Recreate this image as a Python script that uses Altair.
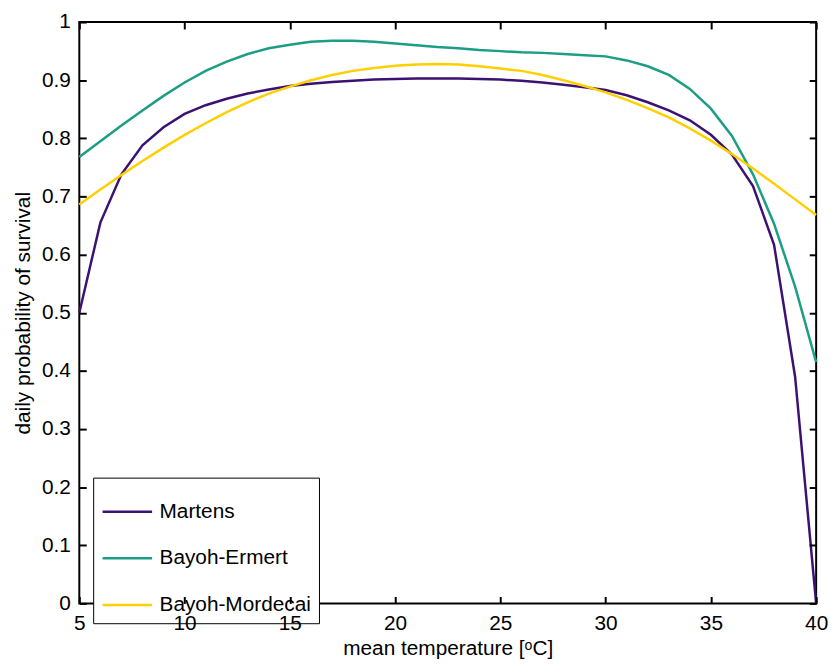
import altair as alt
import pandas as pd

temps = list(range(5, 41))
martens = [0.500, 0.655, 0.738, 0.788, 0.819, 0.842, 0.857, 0.868, 0.877, 0.884,
           0.890, 0.894, 0.897, 0.899, 0.901, 0.902, 0.903, 0.903, 0.903, 0.902,
           0.901, 0.899, 0.896, 0.892, 0.888, 0.883, 0.874, 0.862, 0.848, 0.831,
           0.806, 0.772, 0.718, 0.617, 0.390, 0.000]
ermert = [0.768, 0.795, 0.822, 0.848, 0.873, 0.896, 0.916, 0.932, 0.945, 0.955,
          0.961, 0.966, 0.968, 0.968, 0.966, 0.963, 0.960, 0.957, 0.955, 0.952,
          0.950, 0.948, 0.947, 0.945, 0.943, 0.941, 0.934, 0.924, 0.909, 0.885,
          0.851, 0.804, 0.738, 0.653, 0.545, 0.415]
mordecai = [0.686, 0.712, 0.737, 0.761, 0.784, 0.806, 0.826, 0.845, 0.862, 0.877,
            0.889, 0.900, 0.909, 0.916, 0.921, 0.925, 0.927, 0.928, 0.927, 0.924,
            0.920, 0.916, 0.909, 0.900, 0.890, 0.879, 0.866, 0.852, 0.836, 0.817,
            0.796, 0.773, 0.748, 0.722, 0.695, 0.668]
series_names = ["Martens", "Bayoh-Ermert", "Bayoh-Mordecai"]
colors = ["#3b1272", "#1b9e83", "#ffcf00"]
x_ticks = [5, 10, 15, 20, 25, 30, 35, 40]
y_ticks = [0, 0.1, 0.2, 0.3, 0.4, 0.5, 0.6, 0.7, 0.8, 0.9, 1]

rows = []
for name, vals in zip(series_names, [martens, ermert, mordecai]):
    for t, v in zip(temps, vals):
        rows.append({"T": t, "p": v, "model": name})
df = pd.DataFrame(rows)

FONT = "Liberation Sans"
FS = 21
xscale = alt.Scale(domain=[5, 40], nice=False, zero=False)
yscale = alt.Scale(domain=[0, 1], nice=False)

tick_style = dict(ticks=True, domain=False, tickSize=7, tickWidth=2, tickColor="black",
                  tickOpacity=1, grid=False, zindex=2)

main = alt.Chart(df).mark_line(strokeWidth=2.5).encode(
    x=alt.X("T:Q", scale=xscale,
            axis=alt.Axis(values=x_ticks, title="mean temperature [ᵒC]", orient="bottom",
                          offset=-7, labelPadding=9, labelFontSize=FS, labelFont=FONT,
                          labelColor="black", titleFont=FONT, titleFontSize=FS,
                          titleFontWeight="normal", titleColor="black", titlePadding=5,
                          labelFlush=False, **tick_style)),
    y=alt.Y("p:Q", scale=yscale,
            axis=alt.Axis(values=y_ticks, title="daily probability of survival", orient="left",
                          format="~g", offset=-7, labelPadding=9, labelFontSize=FS,
                          labelFont=FONT, labelColor="black", titleFont=FONT,
                          titleFontSize=FS, titleFontWeight="normal", titleColor="black",
                          titlePadding=8, labelFlush=False, **tick_style)),
    color=alt.Color("model:N", scale=alt.Scale(domain=series_names, range=colors),
                    legend=alt.Legend(title=None, orient="none", legendX=14, legendY=460,
                                      symbolType="stroke", symbolSize=2500, symbolStrokeWidth=2.5,
                                      labelFont=FONT, labelFontSize=FS, labelColor="black",
                                      strokeColor="black", fillColor="white", padding=8,
                                      rowPadding=10, labelOffset=6, labelLimit=300,
                                      cornerRadius=0)),
    order=alt.Order("T:Q"),
)

frame = alt.Chart(df).mark_point(opacity=0).encode(
    x=alt.X("T:Q", scale=xscale,
            axis=alt.Axis(values=x_ticks, orient="top", offset=-7, labels=False,
                          title=None, **tick_style)),
    y=alt.Y("p:Q", scale=yscale,
            axis=alt.Axis(values=y_ticks, orient="right", offset=-7, labels=False,
                          title=None, **tick_style)),
)

chart = alt.layer(main, frame).resolve_scale(x="independent", y="independent").properties(
    width=744, height=587,
    autosize=alt.AutoSizeParams(type="none"),
    padding={"left": 72, "top": 11, "right": 16, "bottom": 60},
    background="white",
).configure_view(stroke="black", strokeWidth=2)

chart.save("out.html", embed_options={"renderer": "svg", "actions": False})
